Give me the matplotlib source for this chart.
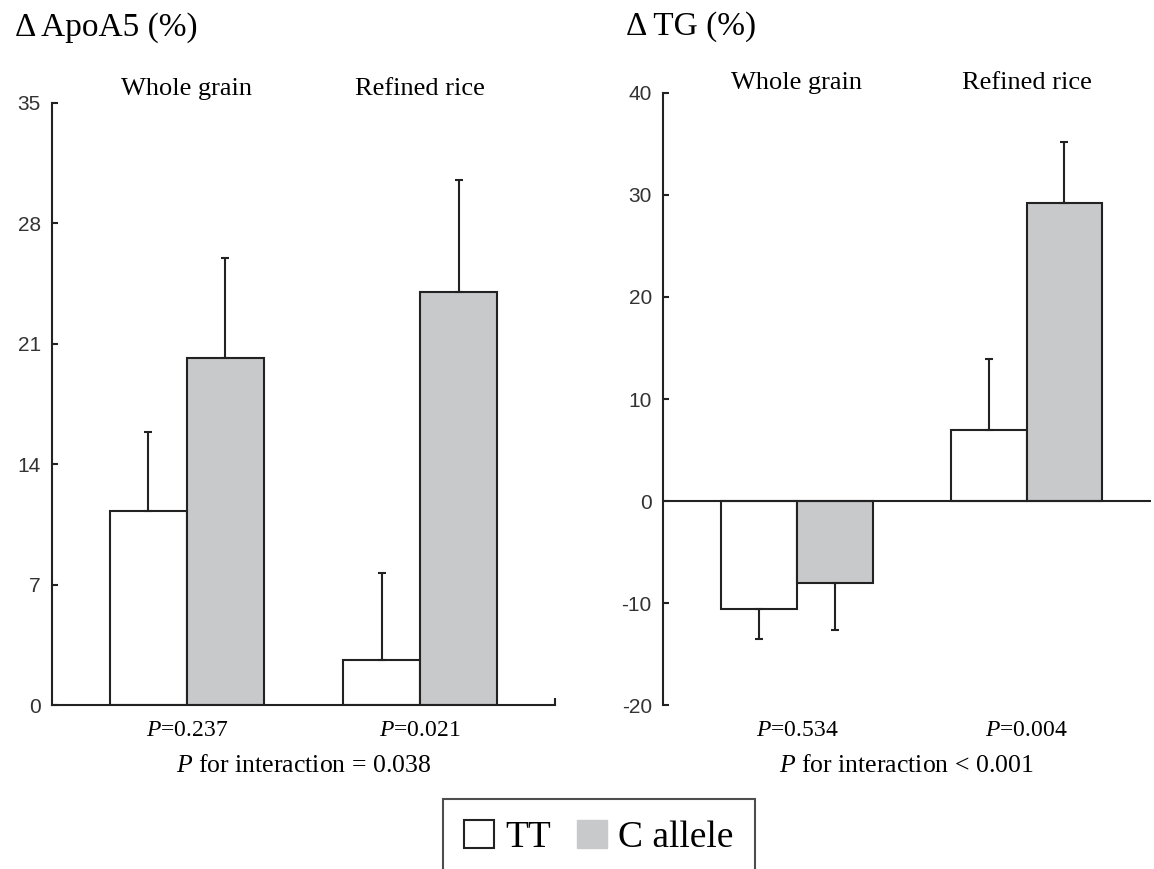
"""
Change in ApoA5 and TG by diet group and genotype (TT vs C allele).
"""

import matplotlib
matplotlib.use("Agg")
import matplotlib.pyplot as plt
from matplotlib.patches import Patch
from matplotlib.transforms import blended_transform_factory as blend

# data
groups = ["Whole grain", "Refined rice"]
genotypes = ["TT", "C allele"]

apoa5_tt = [11.3, 2.6]
apoa5_c = [20.2, 24.0]
apoa5_tt_err = [4.6, 5.1]
apoa5_c_err = [5.8, 6.5]
apoa5_p = ["0.237", "0.021"]
apoa5_ticks = [0, 7, 14, 21, 28, 35]

tg_tt = [-10.6, 7.0]
tg_c = [-8.0, 29.2]
tg_tt_err = [2.9, 6.9]
tg_c_err = [4.6, 6.0]
tg_p = ["0.534", "0.004"]
tg_ticks = [-20, -10, 0, 10, 20, 30, 40]

SERIF = ["Liberation Serif", "DejaVu Serif"]
SANS = ["Liberation Sans", "DejaVu Sans"]
EDGE = "#222222"
GREY = "#c8c9cb"
W = 0.33

plt.rcParams["axes.unicode_minus"] = False
plt.rcParams["mathtext.fontset"] = "custom"
plt.rcParams["mathtext.it"] = "Liberation Serif:italic"
plt.rcParams["mathtext.rm"] = "Liberation Serif"


def one_sided(vals, errs):
    # error bar only drawn away from zero, like in the paper figure
    lower = [e if v < 0 else 0 for v, e in zip(vals, errs)]
    upper = [e if v >= 0 else 0 for v, e in zip(vals, errs)]
    return [lower, upper]


def fy(px):
    # figure fraction from a pixel row (top = 0)
    return 1 - px / 869


def draw_panel(ax, tt, c, tt_err, c_err, ticks, xlim):
    x = range(len(groups))
    xt = [i - W / 2 for i in x]
    xc = [i + W / 2 for i in x]
    ekw = dict(ecolor=EDGE, elinewidth=1.5, capsize=3, capthick=1.5)
    ax.bar(xt, tt, W, color="white", edgecolor=EDGE, linewidth=1.5,
           yerr=one_sided(tt, tt_err), error_kw=ekw, zorder=2)
    ax.bar(xc, c, W, color=GREY, edgecolor=EDGE, linewidth=1.5,
           yerr=one_sided(c, c_err), error_kw=ekw, zorder=2)
    ax.set_xlim(*xlim)
    ax.set_ylim(ticks[0], ticks[-1])
    ax.set_yticks(ticks)
    ax.set_xticks([])
    for s in ["top", "right"]:
        ax.spines[s].set_visible(False)
    ax.spines["left"].set_linewidth(1.5)
    ax.spines["left"].set_color(EDGE)
    ax.tick_params(axis="y", direction="in", length=4, width=1.5,
                   color=EDGE, pad=8)
    for lab in ax.get_yticklabels():
        lab.set_family(SANS)
        lab.set_fontsize(15)
        lab.set_color("#333333")


fig = plt.figure(figsize=(11.54, 8.69), dpi=100)

# left panel: ApoA5
ax1 = fig.add_axes([0.045, 0.1887, 0.436, 0.6928])
draw_panel(ax1, apoa5_tt, apoa5_c, apoa5_tt_err, apoa5_c_err,
           apoa5_ticks, (-0.579, 1.579))
ax1.spines["bottom"].set_linewidth(1.5)
ax1.spines["bottom"].set_color(EDGE)
ax1.set_xticks([1.579], minor=True)
ax1.tick_params(axis="x", which="minor", direction="in", length=5,
                width=1.5, color=EDGE)
ax1.set_xticklabels([], minor=True)

# right panel: TG
ax2 = fig.add_axes([0.5745, 0.1887, 0.4225, 0.7043])
draw_panel(ax2, tg_tt, tg_c, tg_tt_err, tg_c_err, tg_ticks, (-0.583, 1.54))
ax2.spines["bottom"].set_visible(False)
ax2.axhline(0, color=EDGE, linewidth=1.5, zorder=3)

# headings
fig.text(15 / 1154, fy(28), "Δ ApoA5 (%)", family=SERIF,
         fontsize=24, va="center", ha="left")
fig.text(626 / 1154, fy(27), "Δ TG (%)", family=SERIF,
         fontsize=24, va="center", ha="left")

# group names above, p values below
panels = [(ax1, apoa5_p, "= 0.038", 95), (ax2, tg_p, "< 0.001", 89)]
for ax, pv, inter, base in panels:
    tr = blend(ax.transData, fig.transFigure)
    for i, g in enumerate(groups):
        ax.text(i, fy(base), g, transform=tr, ha="center", va="baseline",
                family=SERIF, fontsize=19)
        ax.text(i, fy(736), r"$\it{P}$=" + pv[i], transform=tr,
                ha="center", va="baseline", family=SERIF, fontsize=17)
    ax.text(0.5, fy(772), r"$\it{P}$ for interaction " + inter,
            transform=blend(ax.transAxes, fig.transFigure),
            ha="center", va="baseline", family=SERIF, fontsize=18.5)

handles = [Patch(facecolor="white", edgecolor=EDGE, linewidth=1.5),
           Patch(facecolor=GREY, edgecolor=GREY)]
leg = fig.legend(handles, genotypes, loc="upper left",
                 bbox_to_anchor=(443 / 1154, fy(799)),
                 ncol=2, frameon=True, fancybox=False, handlelength=0.8,
                 handleheight=0.8, handletextpad=0.32, columnspacing=0.67,
                 borderpad=0.55, borderaxespad=0,
                 prop={"family": SERIF, "size": 27})
leg.get_frame().set_edgecolor(EDGE)
leg.get_frame().set_linewidth(1.5)

fig.savefig("out.png", dpi=100)
